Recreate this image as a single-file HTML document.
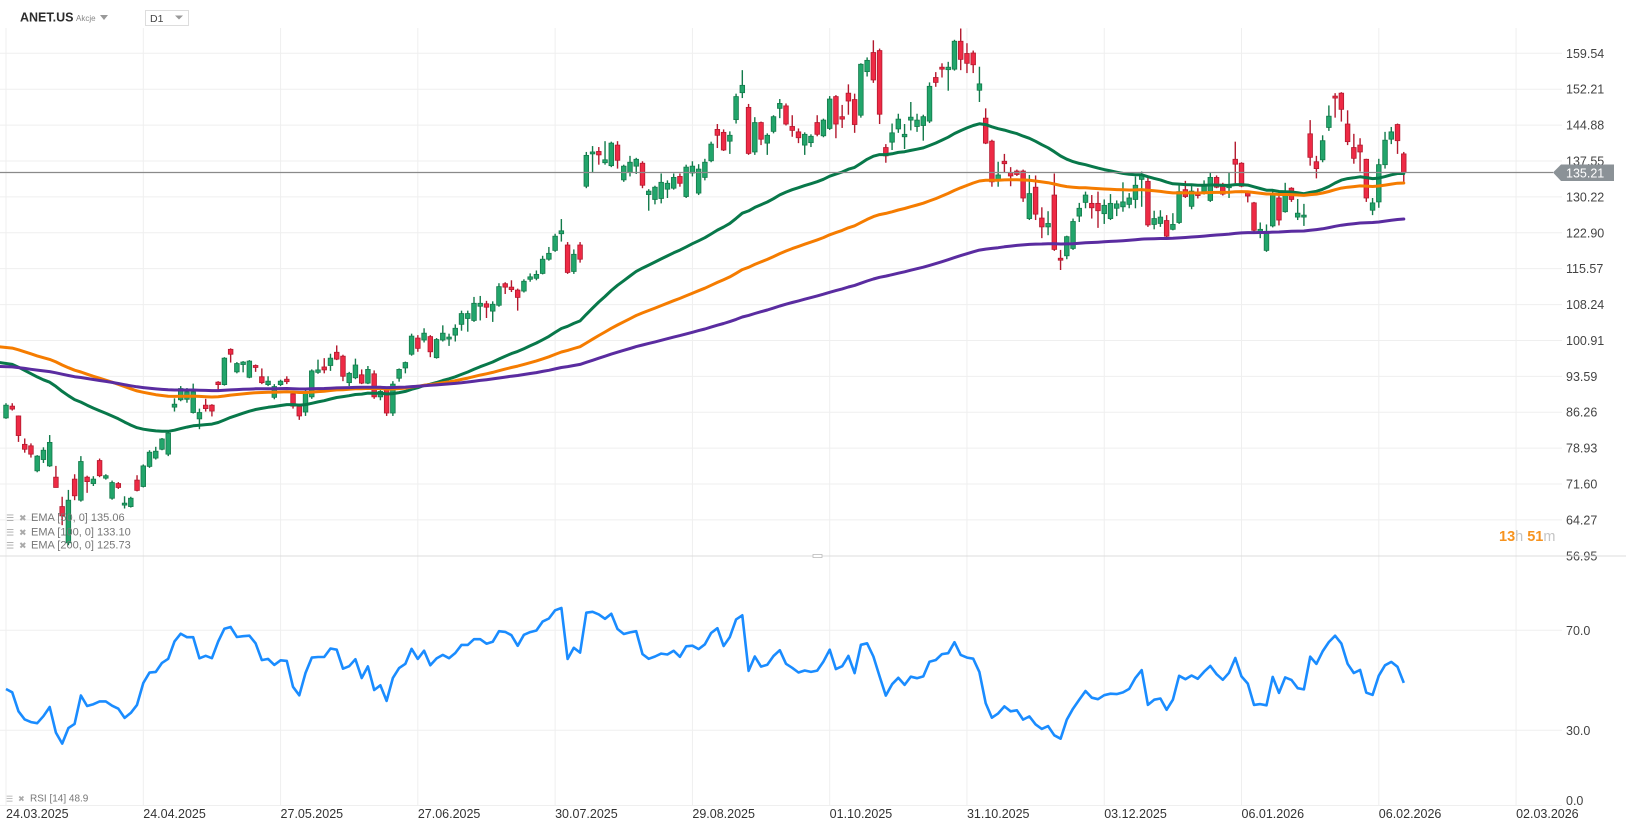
<!DOCTYPE html>
<html><head><meta charset="utf-8"><title>ANET.US D1</title>
<style>
html,body{margin:0;padding:0;background:#fff;}
svg{display:block;font-family:"Liberation Sans",sans-serif;}
</style></head>
<body>
<svg id="chart" width="1626" height="831" viewBox="0 0 1626 831" xmlns="http://www.w3.org/2000/svg">
<rect x="0" y="0" width="1626" height="831" fill="#fff"/>
<g id="grid"></g>
<g id="candles"></g>
<g id="emas"></g>
<g id="rsi"></g>
<g id="axes"></g>
<g>
  <text x="20" y="21.5" font-size="12.5" font-weight="bold" fill="#2d2d2d">ANET.US</text>
  <text x="76" y="21" font-size="8" fill="#888">Akcje</text>
  <path d="M100 15 L108 15 L104 20 Z" fill="#999"/>
  <rect x="145.5" y="10.5" width="43" height="15" fill="#fff" stroke="#ddd"/>
  <text x="150" y="22" font-size="10.5" fill="#444">D1</text>
  <path d="M175 15.5 L183 15.5 L179 19.5 Z" fill="#999"/>
</g>
<g font-size="11" fill="#777">
  <text x="6" y="521" font-family="DejaVu Sans" font-size="9" fill="#aaa">☰</text>
  <text x="19" y="521" font-family="DejaVu Sans" font-size="9" fill="#aaa">✖</text>
  <text x="31" y="521">EMA [50,  0] 135.06</text>
  <text x="6" y="535.5" font-family="DejaVu Sans" font-size="9" fill="#aaa">☰</text>
  <text x="19" y="535.5" font-family="DejaVu Sans" font-size="9" fill="#aaa">✖</text>
  <text x="31" y="535.5">EMA [100,  0] 133.10</text>
  <text x="6" y="548.5" font-family="DejaVu Sans" font-size="9" fill="#aaa">☰</text>
  <text x="19" y="548.5" font-family="DejaVu Sans" font-size="9" fill="#aaa">✖</text>
  <text x="31" y="548.5">EMA [200,  0] 125.73</text>
</g>
<g>
  <text x="6" y="801.5" font-family="DejaVu Sans" font-size="8" fill="#aaa">☰</text>
  <text x="18" y="801.5" font-family="DejaVu Sans" font-size="8" fill="#aaa">✖</text>
  <text x="30" y="801.5" font-size="10" fill="#777">RSI [14]  48.9</text>
</g>
<g font-size="14.5" font-weight="bold">
  <text x="1499" y="541"><tspan fill="#f7931e">13</tspan><tspan fill="#c4c4c4" font-weight="normal">h </tspan><tspan fill="#f7931e">51</tspan><tspan fill="#c4c4c4" font-weight="normal">m</tspan></text>
</g>
</svg>
<script>
// ---- data ----
const opens = [85.1,87.5,85.5,79.7,79.4,74.3,76.6,75.3,73.0,67.0,59.6,72.6,68.3,73.0,71.7,76.4,72.8,68.7,71.7,67.3,67.0,72.4,71.1,75.2,76.9,78.7,77.7,87.3,88.8,88.9,86.2,84.9,87.7,87.7,92.4,91.9,99.1,94.5,96.0,93.4,95.8,93.5,91.9,89.3,91.9,93.0,90.0,87.5,86.3,89.4,94.4,95.5,95.8,98.5,97.7,92.3,93.3,93.9,92.2,94.1,89.4,91.2,86.1,93.2,95.3,98.1,101.4,101.0,101.7,97.4,101.0,101.2,102.0,104.2,105.4,105.0,107.9,108.4,106.9,108.1,112.5,111.8,111.2,111.0,113.4,113.6,114.6,117.5,119.3,122.7,120.4,115.0,120.4,132.4,139.0,139.5,137.2,136.6,140.8,133.7,135.2,136.5,137.1,130.7,129.7,129.9,131.8,132.0,134.4,130.3,135.1,131.0,134.2,137.6,144.0,143.4,141.6,146.0,151.5,148.5,139.4,145.4,141.2,143.6,148.3,148.8,144.6,143.5,140.8,141.3,145.4,142.7,144.2,150.7,146.6,151.4,150.1,146.9,155.8,159.7,160.1,140.3,141.4,144.1,142.5,145.9,144.6,144.8,145.7,154.6,156.7,156.2,156.3,162.0,159.5,159.6,152.0,146.3,141.6,133.8,137.5,135.2,135.5,135.5,125.8,132.2,125.9,124.1,130.6,117.7,118.2,119.7,126.3,129.1,128.9,128.9,126.8,125.8,127.9,128.2,128.7,129.7,133.8,133.4,124.6,124.8,125.4,123.6,125.0,131.7,128.3,130.9,131.3,129.5,134.2,132.8,132.1,137.9,137.1,131.1,129.0,123.1,119.3,124.3,130.0,127.2,132.0,126.1,126.1,143.1,137.4,137.8,144.4,150.8,151.4,145.1,140.3,140.8,137.9,127.5,129.2,136.8,142.0,145.0,139.0];
const highs = [88.1,88.1,85.6,80.9,79.9,77.5,79.1,81.6,75.3,69.0,70.4,73.6,77.3,73.3,73.2,76.8,73.6,72.3,72.0,69.1,69.0,73.4,75.6,78.5,79.2,81.0,82.3,89.1,91.6,91.2,92.1,87.0,89.0,87.9,92.6,97.5,99.3,96.5,96.7,96.9,96.0,95.2,93.6,92.0,92.9,93.6,90.5,88.0,91.0,95.0,97.0,97.3,98.2,99.9,98.0,94.5,97.2,95.0,95.7,94.8,91.2,91.5,92.6,95.2,96.6,102.3,102.0,103.4,102.0,101.4,104.0,102.3,104.2,107.0,107.0,109.8,110.0,109.0,108.9,112.6,112.8,113.2,111.5,113.4,114.6,115.2,118.2,120.0,122.7,125.7,121.0,119.5,121.0,139.4,140.6,140.4,141.6,141.5,141.6,136.8,138.6,138.2,137.5,131.8,132.5,135.0,133.6,135.0,135.0,136.8,137.5,136.9,138.0,141.5,145.1,144.0,143.6,151.3,156.1,149.2,146.5,145.6,143.2,146.9,150.2,149.3,146.9,144.2,143.4,143.0,146.9,146.2,150.8,151.0,149.0,153.2,151.3,157.5,158.7,162.2,160.5,141.0,145.2,147.2,145.1,149.6,147.2,147.0,153.6,155.7,157.5,157.8,162.3,164.6,161.6,160.1,156.8,148.3,141.9,137.4,139.0,136.3,135.8,135.8,134.7,134.6,128.1,127.3,135.0,119.4,122.3,125.8,129.0,131.3,130.6,131.3,129.7,130.8,129.5,133.2,131.0,134.4,135.4,134.2,127.4,127.5,126.5,126.9,132.8,133.5,132.6,132.0,133.6,135.1,134.6,133.1,135.3,141.5,137.3,131.4,129.2,125.0,124.6,131.7,130.4,133.1,132.2,129.8,128.8,145.9,138.6,142.8,148.9,151.4,151.6,147.9,143.1,142.2,138.0,130.0,138.0,143.5,144.5,145.2,139.4];
const lows = [84.9,86.6,80.2,78.0,77.0,74.0,75.9,75.1,70.9,63.2,59.1,68.3,68.0,69.8,71.2,73.0,72.5,68.4,70.6,66.6,66.8,70.1,70.9,74.9,76.6,78.5,77.3,86.4,88.5,88.2,86.0,82.8,86.4,85.4,90.5,91.7,96.4,94.2,94.4,93.2,94.5,92.0,91.6,88.9,91.6,92.0,87.0,84.7,85.5,89.0,94.1,94.2,94.7,96.9,92.6,91.6,93.0,92.0,92.0,89.0,88.7,85.5,85.5,92.5,94.2,97.8,98.6,100.5,97.5,97.2,100.7,99.8,100.7,102.9,102.7,104.7,105.0,105.5,104.7,107.8,110.4,110.8,107.0,110.7,112.9,113.2,114.4,117.2,119.0,121.1,114.5,114.5,116.8,132.0,135.2,136.8,136.8,136.3,136.0,133.3,134.4,134.9,132.0,127.4,128.7,128.9,130.0,131.7,132.3,130.0,134.4,130.6,133.6,137.3,140.2,139.6,139.0,145.2,150.4,138.8,138.8,140.8,138.8,143.2,146.3,144.8,142.5,141.2,138.8,140.4,142.6,142.4,143.9,142.2,144.3,147.0,143.3,146.4,154.8,153.5,145.1,137.2,139.8,143.3,140.0,143.8,143.5,141.7,145.3,152.7,154.6,151.9,156.0,156.1,155.5,155.5,149.6,141.0,132.3,132.3,135.1,132.4,134.5,129.2,125.5,125.5,121.8,122.4,119.2,115.3,117.5,119.4,125.1,127.9,125.8,123.9,124.7,125.5,126.3,127.2,127.9,127.9,128.2,124.1,123.6,124.1,122.0,123.4,124.7,130.0,127.7,129.9,130.7,129.2,132.0,130.5,130.0,133.0,132.2,129.1,123.0,121.8,119.0,124.0,124.4,127.0,129.2,125.5,124.3,136.6,134.0,137.3,143.7,146.4,145.6,140.8,137.0,135.4,129.2,126.5,128.0,136.0,141.0,139.0,133.3];
const closes = [87.7,86.9,81.5,78.7,77.7,77.3,78.5,80.1,70.9,65.1,68.3,69.2,76.2,72.1,72.6,73.3,73.3,71.9,70.9,67.7,68.7,70.3,75.3,78.1,78.3,80.8,82.0,87.9,91.1,90.4,90.4,86.2,87.0,86.5,91.9,97.3,98.1,96.2,96.5,96.7,95.4,92.3,92.6,91.5,92.6,92.5,87.5,85.5,90.4,94.7,94.9,94.9,97.3,97.1,93.6,94.2,95.9,92.2,95.0,89.4,90.5,86.1,92.0,95.0,96.4,101.8,99.3,102.4,98.6,101.1,102.4,101.6,103.4,106.4,106.4,108.5,108.5,107.7,108.3,111.9,111.8,111.3,109.7,113.0,113.9,114.4,117.5,118.7,122.2,123.3,114.8,118.5,117.5,138.7,139.4,138.8,137.8,141.2,137.7,136.5,137.3,137.9,132.6,131.4,132.2,133.2,133.0,134.2,133.0,136.3,136.5,135.9,137.3,141.0,142.8,139.8,142.8,150.7,153.0,139.1,145.4,142.0,142.8,146.6,149.3,145.1,143.8,142.3,143.0,142.6,143.0,145.9,150.2,145.1,146.1,149.8,145.0,157.3,158.1,154.1,147.1,138.6,143.3,146.1,143.0,146.5,145.9,146.6,152.8,153.6,156.3,156.7,162.0,158.3,157.5,157.2,153.3,141.2,133.3,134.7,137.0,134.5,134.8,130.0,130.9,126.7,124.1,124.8,119.5,117.3,122.1,125.2,127.9,130.6,128.0,127.4,128.5,128.9,128.8,129.2,130.0,132.6,134.6,124.5,125.8,126.1,122.2,124.6,131.3,130.3,131.4,130.5,132.5,134.2,132.2,130.8,132.6,136.9,132.4,130.4,123.4,123.6,123.2,130.8,125.5,130.5,129.7,126.9,126.5,138.3,136.0,141.7,146.7,150.4,148.1,141.5,138.1,139.4,130.0,129.0,136.8,141.8,143.5,141.7,135.2];
const dateLabels = ["24.03.2025","24.04.2025","27.05.2025","27.06.2025","30.07.2025","29.08.2025","01.10.2025","31.10.2025","03.12.2025","06.01.2026","06.02.2026","02.03.2026"];
const priceTicks = [159.54,152.21,144.88,137.55,130.22,122.90,115.57,108.24,100.91,93.59,86.26,78.93,71.60,64.27,56.95];
const rsiTicks = [70,30,0];
const lastPrice = 135.21;
const emaPeriods = [50,100,200];
const emaStart = [96.4,99.6,95.6];
const rsiSeedGain = [1.0];
const rsiSeedLoss = [1.15];

// ---- scales ----
const NS = "http://www.w3.org/2000/svg";
const STEP = 6.24, X0 = 6;
const xc = i => X0 + i * STEP;
const yP = p => 53.3 + (159.54 - p) * 4.898;
const yR = v => 805.3 - v * 2.5;
function mk(tag, attrs, parent) {
  const e = document.createElementNS(NS, tag);
  for (const k in attrs) e.setAttribute(k, attrs[k]);
  parent.appendChild(e);
  return e;
}
const grid = document.getElementById('grid');
const axes = document.getElementById('axes');

priceTicks.forEach((p, k) => {
  const y = yP(p);
  if (k < priceTicks.length - 1) {
    const l = mk('line', {x1: 0, x2: 1562, y1: y, y2: y, stroke: '#efefef', 'stroke-width': 1}, grid);
    
    
  }
  const t = mk('text', {x: 1566, y: y + 4.5, 'font-size': 12.5, fill: '#444'}, axes);
  t.textContent = p.toFixed(2);
  
  
});
dateLabels.forEach((d, k) => {
  const x = xc(22 * k);
  const l = mk('line', {x1: x, x2: x, y1: 28, y2: 805, stroke: '#efefef', 'stroke-width': 1}, grid);
  
  
  const t = mk('text', {x: x, y: 818, 'font-size': 12.5, fill: '#333'}, axes);
  t.textContent = d;
  
  
});
let sep = mk('line', {x1: 0, x2: 1626, y1: 556, y2: 556, stroke: '#dcdcdc', 'stroke-width': 1}, axes);


let hnd = mk('rect', {x: 813, y: 554.5, width: 9, height: 3, fill: '#fff', stroke: '#bbb', 'stroke-width': 0.8}, axes);


let bax = mk('line', {x1: 0, x2: 1562, y1: 805.5, y2: 805.5, stroke: '#efefef', 'stroke-width': 1}, axes);



const cg = document.getElementById('candles');
closes.forEach((c, i) => {
  const o = opens[i], h = highs[i], l = lows[i];
  const up = c >= o;
  const x = xc(i);
  const g = mk('g', {}, cg);
  
  
  mk('line', {x1: x, x2: x, y1: yP(h), y2: yP(l), stroke: up ? '#127a4a' : '#b3192e', 'stroke-width': 1.4}, g);
  const top = yP(Math.max(o, c)), bot = yP(Math.min(o, c));
  mk('rect', {x: x - 2.3, y: top, width: 4.6, height: Math.max(1.5, bot - top), fill: up ? '#22a56b' : '#ee2a45', stroke: up ? '#127a4a' : '#b3192e', 'stroke-width': 0.8}, g);
});

const emaColors = ['#08784a', '#f57c00', '#5a2ca0'];
const emaNames = ['ema50-line', 'ema100-line', 'ema200-line'];
const eg = document.getElementById('emas');
emaPeriods.forEach((n, k) => {
  const a = 2 / (n + 1);
  let e = emaStart[k];
  const pts = [];
  closes.forEach((c, i) => {
    if (i > 0) e = e + a * (c - e);
    pts.push((i === 0 ? 0 : xc(i)).toFixed(1) + ',' + yP(e).toFixed(1));
  });
  const pl = mk('polyline', {points: pts.join(' '), fill: 'none', stroke: emaColors[k], 'stroke-width': 3, 'stroke-linejoin': 'round', 'stroke-linecap': 'round'}, eg);
  
  
});

const yl = yP(lastPrice);
let pline = mk('line', {x1: 0, x2: 1553, y1: yl, y2: yl, stroke: '#8a8a8a', 'stroke-width': 1.2}, axes);


let ptag = mk('path', {d: `M1553 ${yl} L1561 ${yl-8} L1614 ${yl-8} L1614 ${yl+8.5} L1561 ${yl+8.5} Z`, fill: '#8b9297'}, axes);


let ptxt = mk('text', {x: 1566, y: yl + 4.8, 'font-size': 12.5, fill: '#fff'}, axes);
ptxt.textContent = lastPrice.toFixed(2);



const rg = document.getElementById('rsi');
rsiTicks.forEach(v => {
  const y = yR(v);
  if (v > 0) {
    const l = mk('line', {x1: 0, x2: 1562, y1: y, y2: y, stroke: '#efefef', 'stroke-width': 1}, rg);
    
    
  }
  const t = mk('text', {x: 1566, y: (v > 0 ? y + 4.5 : y - 0.5), 'font-size': 12.5, fill: '#444'}, rg);
  t.textContent = v.toFixed(1);
  
  
});
let ag = rsiSeedGain[0], al = rsiSeedLoss[0];
const rpts = [];
closes.forEach((c, i) => {
  if (i > 0) {
    const d = c - closes[i - 1];
    ag = (ag * 13 + Math.max(d, 0)) / 14;
    al = (al * 13 + Math.max(-d, 0)) / 14;
  }
  const r = al === 0 ? 100 : 100 - 100 / (1 + ag / al);
  rpts.push(xc(i).toFixed(1) + ',' + yR(r).toFixed(1));
});
const rl = mk('polyline', {points: rpts.join(' '), fill: 'none', stroke: '#1a8cff', 'stroke-width': 2.6, 'stroke-linejoin': 'round'}, rg);


</script>
</body></html>
